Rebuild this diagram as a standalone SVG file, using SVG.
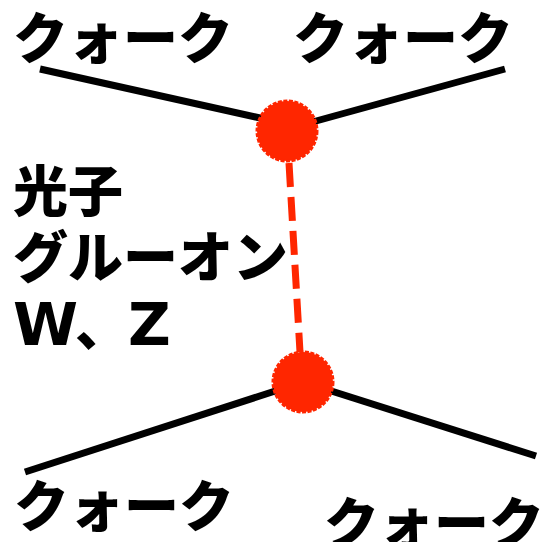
<svg xmlns="http://www.w3.org/2000/svg" width="540" height="542" viewBox="0 0 540 542">
<style>
.t{font-family:"Noto Sans CJK JP","Noto Sans",sans-serif;font-weight:900;font-size:55px;fill:#000}
.l{font-family:"DejaVu Sans",sans-serif;font-weight:bold;font-size:59px;fill:#000}
.ln{stroke:#000;stroke-width:7;fill:none}
.v{fill:#ff2600;stroke:#ff2600;stroke-width:3;stroke-dasharray:4 1.5}
</style>
<rect width="540" height="542" fill="#fff"/>
<g id="connectors">
<line class="ln" x1="40" y1="69" x2="287" y2="124"/>
<line class="ln" x1="505" y1="69" x2="287" y2="129"/>
<line class="ln" x1="25" y1="472" x2="303" y2="382"/>
<line class="ln" x1="303" y1="382" x2="536" y2="456"/>
<line x1="289" y1="163" x2="300" y2="352" stroke="#ff2600" stroke-width="7" stroke-dasharray="24 10"/>
</g>
<g id="vertex-top"><circle class="v" cx="287" cy="131" r="30"/></g>
<g id="vertex-bottom"><circle class="v" cx="303" cy="382" r="30"/></g>
<g id="label-tl"><text class="t" x="13" y="58">クォーク</text></g>
<g id="label-tr"><text class="t" x="293" y="58">クォーク</text></g>
<g id="label-bl"><text class="t" x="14" y="526">クォーク</text></g>
<g id="label-br"><text class="t" x="324" y="543">クォーク</text></g>
<g id="label-boson"><text class="t" x="13" y="211">光子</text><text class="t" x="13" y="277">グルーオン</text><text x="13" y="345"><tspan class="l">W</tspan><tspan class="t" x="75">、</tspan><tspan class="l" x="128">Z</tspan></text></g>
</svg>
